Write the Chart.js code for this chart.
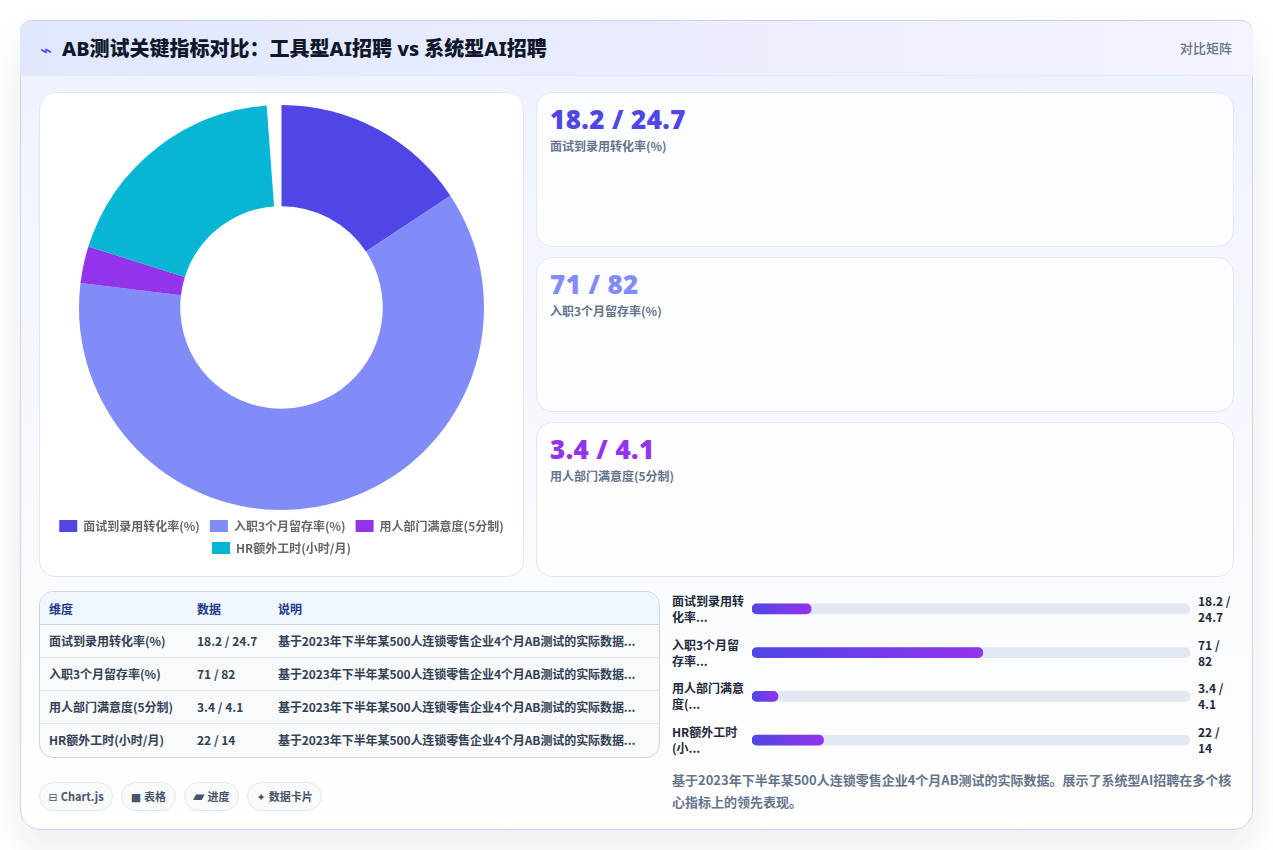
<!DOCTYPE html>
<html lang="zh-CN">
<head>
<meta charset="utf-8">
<title>AB测试关键指标对比</title>
<script src="https://cdn.jsdelivr.net/npm/chart.js@4/dist/chart.umd.min.js"></script>
<style>
    * { box-sizing: border-box; margin: 0; padding: 0; }
    html, body { width: 1273px; height: 850px; overflow: hidden; background: #fff; }
    body { font-family: "Noto Sans CJK SC", "Noto Sans", sans-serif; color: #334155; }

    .page {
        position: absolute; left: 20px; top: 20px; width: 1233px; height: 810px;
        border: 1px solid #c7d2fe; border-radius: 20px;
        background: linear-gradient(180deg, #eef2ff 0%, #ffffff 100%);
        box-shadow: 0 20px 40px rgba(15, 23, 42, 0.08);
    }
    .head {
        position: absolute; left: -1px; top: -1px; right: -1px; height: 56px;
        background: linear-gradient(90deg, #e0e7ff, #f5f3ff);
        border-top: 1px solid #c7d2fe;
        border-bottom: 1px solid #e0e7ff;
        border-radius: 12px 12px 0 0;
    }
    .head .bolt { position: absolute; left: 20px; top: 14px; font-size: 20px; line-height: 28px; color: #4f46e5; }
    .head h1 { position: absolute; left: 42px; top: 14px; font-size: 20px; line-height: 28px; font-weight: 800; color: #0f172a; white-space: nowrap; font-family: "Noto Sans", "Noto Sans CJK SC", sans-serif; }
    .head .tag { position: absolute; right: 21px; top: 18px; font-size: 13px; line-height: 18px; font-weight: 500; color: #64748b; }

    .panel {
        position: absolute; background: #fff; border: 1px solid #e2e8f0; border-radius: 16px;
    }
    #pieBox { left: 18px; top: 71px; width: 485px; height: 485px; }
    #pieBox .wrap { position: absolute; left: 6px; top: 12px; width: 471px; height: 459px; }

    .stat {
        position: absolute; left: 515px; width: 698px; height: 155px;
        background: rgba(255, 255, 255, 0.8); border: 1px solid #e2e8f0; border-radius: 16px;
        padding: 11px 13px;
    }
    .stat b { display: block; font-size: 26px; line-height: 31px; font-weight: 900; letter-spacing: 0.4px; font-family: "Noto Sans", sans-serif; }
    .stat span { display: block; margin-top: 2px; font-size: 12px; line-height: 18px; font-weight: 700; color: #64748b; }

    .tableBox {
        position: absolute; left: 18px; top: 570px; width: 621px; height: 167px;
        border: 1px solid #cbd5e1; border-radius: 14px; overflow: hidden; background: #f8fafc;
    }
    table { width: 100%; border-collapse: collapse; table-layout: fixed; font-size: 12px; }
    th { height: 32px; padding-top: 1px; text-align: left; font-weight: 700; color: #1e3a8a; background: #eff6ff; border-bottom: 1px solid #cbd5e1; padding-left: 9px; }
    td { height: 33px; font-weight: 600; color: #334155; border-bottom: 1px solid #e2e8f0; padding-left: 9px; white-space: nowrap; }
    td:last-child { letter-spacing: -0.08px; }
    tr:last-child td { border-bottom: 0; }

    .tags { position: absolute; left: 18px; top: 761px; display: flex; gap: 8px; }
    .tags div {
        height: 29px; padding: 0 8.5px; border: 1px solid #e2e8f0; border-radius: 15px; background: #f8fafc;
        font-size: 11px; line-height: 27px; font-weight: 700; color: #475569; white-space: nowrap;
    }
    .tags i { font-style: normal; font-family: "DejaVu Sans", sans-serif; font-weight: 400; margin-right: 3px; }
    .tags div:nth-child(3) i { font-size: 15px; line-height: 11px; }

    .rowLabel { position: absolute; left: 651px; width: 76px; font-size: 12px; line-height: 16px; font-weight: 700; color: #1e293b; }
    .rowValue { position: absolute; left: 1177px; width: 36px; font-size: 12px; line-height: 16px; font-weight: 700; color: #1e293b; }
    #barBox { position: absolute; left: 731px; top: 566px; width: 438px; height: 175px; }
    .note { position: absolute; left: 651px; top: 748px; width: 562px; font-size: 13px; line-height: 22px; font-weight: 600; color: #64748b; }
</style>
</head>
<body>
<div class="page" id="page">
    <div class="head">
        <span class="bolt">⌁</span>
        <h1>AB测试关键指标对比：工具型AI招聘 vs 系统型AI招聘</h1>
        <span class="tag">对比矩阵</span>
    </div>
    <div class="panel" id="pieBox"><div class="wrap"><canvas id="pieChart"></canvas></div></div>
    <div class="tableBox"><table id="detailTable"></table></div>
    <div class="tags" id="tags"></div>
    <div id="barBox"><canvas id="barChart"></canvas></div>
    <div class="note">基于2023年下半年某500人连锁零售企业4个月AB测试的实际数据。展示了系统型AI招聘在多个核心指标上的领先表现。</div>
</div>

<script>
// 指标数据
const metrics = ["面试到录用转化率(%)", "入职3个月留存率(%)", "用人部门满意度(5分制)", "HR额外工时(小时/月)"];
const toolValues = [18.2, 71, 3.4, 22];
const systemValues = [24.7, 82, 4.1, 14];
const metricColors = ["#4f46e5", "#818cf8", "#9333ea", "#06b6d4"];
const barLabels = [["面试到录用转", "化率..."], ["入职3个月留", "存率..."], ["用人部门满意", "度(..."], ["HR额外工时", "(小..."]];
const barAxisMax = 134.7;
const statCount = 3;
const noteShort = "基于2023年下半年某500人连锁零售企业4个月AB测试的实际数据...";
const tableHeads = ["维度", "数据", "说明"];
const tagIcons = ["⊟", "■", "▰", "✦"];
const tagTexts = ["Chart.js", "表格", "进度", "数据卡片"];

const pageEl = document.getElementById("page");
const pairText = (i) => toolValues[i] + " / " + systemValues[i];

// 右上的三张数值卡片
for (let i = 0; i < statCount; i++) {
    const card = document.createElement("div");
    card.className = "stat";
    card.style.top = (71 + i * 165) + "px";
    card.innerHTML = `<b style="color:${metricColors[i]}">${pairText(i)}</b><span>${metrics[i]}</span>`;
    pageEl.appendChild(card);
}

// 明细表
const rows = metrics.map((m, i) => `<tr><td>${m}</td><td>${pairText(i)}</td><td>${noteShort}</td></tr>`).join("");
document.getElementById("detailTable").innerHTML =
    `<colgroup><col style="width:148px"><col style="width:81px"><col></colgroup>` +
    `<tr>${tableHeads.map((h) => `<th>${h}</th>`).join("")}</tr>` + rows;

document.getElementById("tags").innerHTML = tagTexts.map((t, i) => `<div><i>${tagIcons[i]}</i>${t}</div>`).join("");

// 进度条两侧的文字
metrics.forEach((m, i) => {
    const top = 566 + i * 43.67 + 6;
    const left = document.createElement("div");
    left.className = "rowLabel";
    left.style.top = top + "px";
    left.innerHTML = barLabels[i].join("<br>");
    pageEl.appendChild(left);
    const right = document.createElement("div");
    right.className = "rowValue";
    right.style.top = top + "px";
    right.textContent = pairText(i);
    pageEl.appendChild(right);
});

Chart.defaults.font.family = '"Noto Sans CJK SC", "Noto Sans", sans-serif';

new Chart(document.getElementById("pieChart"), {
    type: "doughnut",
    data: {
        labels: metrics,
        datasets: [{ data: toolValues, backgroundColor: metricColors, borderWidth: 0 }]
    },
    options: {
        responsive: true,
        maintainAspectRatio: false,
        animation: false,
        cutout: "50%",
        circumference: 355.8,
        plugins: {
            legend: {
                position: "bottom",
                labels: { boxWidth: 18, boxHeight: 12, color: "#666", font: { size: 12, weight: "600" } }
            },
            tooltip: { enabled: false }
        }
    }
});

// 进度条：底色轨道 + 渐变填充
const MIN_FILL = 26;
function fillGradient(ctx) {
    const chart = ctx.chart;
    const xScale = chart.scales.x;
    if (!xScale) return "#4f46e5";
    const start = xScale.getPixelForValue(0);
    const end = Math.max(xScale.getPixelForValue(toolValues[ctx.dataIndex]), start + MIN_FILL);
    if (!isFinite(start) || !isFinite(end)) return "#4f46e5"; // 布局尚未完成
    const g = chart.ctx.createLinearGradient(start, 0, end, 0);
    g.addColorStop(0, "#4f46e5");
    g.addColorStop(1, "#9333ea");
    return g;
}

new Chart(document.getElementById("barChart"), {
    type: "bar",
    data: {
        labels: metrics,
        datasets: [
            { data: toolValues, backgroundColor: fillGradient, minBarLength: MIN_FILL, order: 1 },
            { data: metrics.map(() => barAxisMax), backgroundColor: "#e2e8f0", order: 2 }
        ]
    },
    options: {
        indexAxis: "y",
        responsive: true,
        maintainAspectRatio: false,
        animation: false,
        layout: { padding: 0 },
        datasets: { bar: { barThickness: 10, grouped: false, borderRadius: 5, borderSkipped: false } },
        scales: {
            x: { display: false, min: 0, max: barAxisMax },
            y: { display: false }
        },
        plugins: { legend: { display: false }, tooltip: { enabled: false } }
    }
});
</script>
</body>
</html>
